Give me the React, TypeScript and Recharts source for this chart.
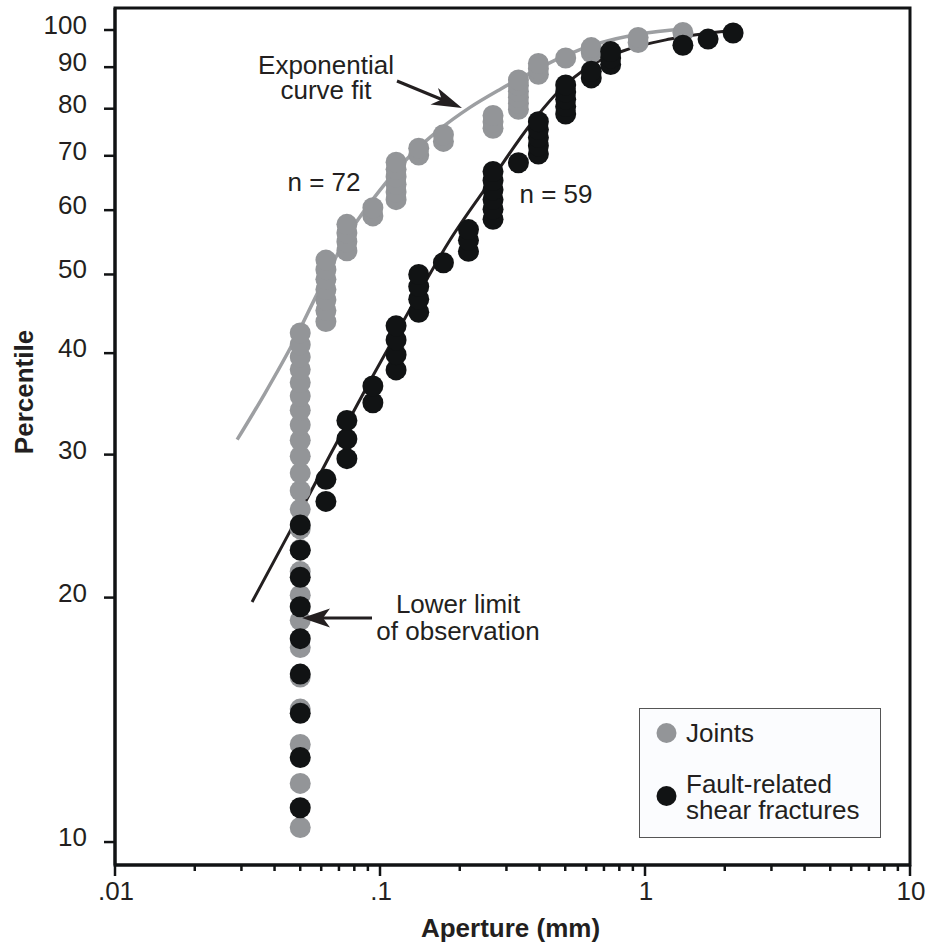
import React from 'react';
import { ComposedChart, Scatter, Line, XAxis, YAxis, ReferenceArea, Legend } from 'recharts';

const FONT = '"Liberation Sans", Arial, Helvetica, sans-serif';
const INK = '#231f20';
const GRAY = '#939598';
const GRAY_LINE = '#9d9fa2';
const BLACK = '#111314';

// ---- Joints (n = 72): aperture (mm) and percentile of each plotted point ----
const jointApertures = [
  0.05, 0.05, 0.05, 0.05, 0.05, 0.05, 0.05, 0.05, 0.05, 0.05, 0.05, 0.05,
  0.05, 0.05, 0.05, 0.05, 0.05, 0.05, 0.05, 0.05, 0.05, 0.05, 0.05, 0.05,
  0.0625, 0.0625, 0.0625, 0.0625, 0.0625, 0.0625, 0.0625,
  0.075, 0.075, 0.075, 0.075,
  0.094, 0.094,
  0.115, 0.115, 0.115, 0.115, 0.115, 0.115,
  0.14, 0.14,
  0.1735, 0.1735,
  0.267, 0.267, 0.267,
  0.333, 0.333, 0.333, 0.333, 0.333, 0.333,
  0.396, 0.396, 0.396,
  0.502,
  0.627, 0.627,
  0.942, 0.942,
  1.39,
];
const jointPercentiles = [
  10.42, 11.81, 13.19, 14.58, 15.97, 17.36, 18.75, 20.14, 21.53, 22.92, 24.31, 25.69,
  27.08, 28.47, 29.86, 31.25, 32.64, 34.03, 35.42, 36.81, 38.19, 39.58, 40.97, 42.36,
  43.75, 45.14, 46.53, 47.92, 49.31, 50.69, 52.08,
  53.47, 54.86, 56.25, 57.64,
  59.03, 60.42,
  61.81, 63.19, 64.58, 65.97, 67.36, 68.75,
  70.14, 71.53,
  72.92, 74.31,
  75.69, 77.08, 78.47,
  79.86, 81.25, 82.64, 84.03, 85.42, 86.81,
  88.19, 89.58, 90.97,
  92.36,
  93.75, 95.14,
  96.53, 97.92,
  99.31,
];

// ---- Fault-related shear fractures (n = 59) ----
const faultApertures = [
  0.05, 0.05, 0.05, 0.05, 0.05, 0.05, 0.05, 0.05, 0.05,
  0.0625, 0.0625,
  0.075, 0.075, 0.075,
  0.094, 0.094,
  0.115, 0.115, 0.115, 0.115,
  0.14, 0.14, 0.14, 0.14,
  0.1735,
  0.2157, 0.2157, 0.2157,
  0.267, 0.267, 0.267, 0.267, 0.267, 0.267,
  0.333,
  0.396, 0.396, 0.396, 0.396, 0.396,
  0.502, 0.502, 0.502, 0.502, 0.502,
  0.627, 0.627,
  0.742, 0.742, 0.742,
  1.39,
  1.73,
  2.15,
];
const faultPercentiles = [
  11.02, 12.71, 14.41, 16.10, 17.80, 19.49, 21.19, 22.88, 24.58,
  26.27, 27.97,
  29.66, 31.36, 33.05,
  34.75, 36.44,
  38.14, 39.83, 41.53, 43.22,
  44.92, 46.61, 48.31, 50.0,
  51.69,
  53.39, 55.08, 56.78,
  58.47, 60.17, 61.86, 63.56, 65.25, 66.95,
  68.64,
  70.34, 72.03, 73.73, 75.42, 77.12,
  78.81, 80.51, 82.2, 83.9, 85.59,
  87.29, 88.98,
  90.68, 92.37, 94.07,
  95.76,
  97.46,
  99.15,
];

// ---- Exponential curve fits ----
const jointFitApertures = [0.0289, 0.0368, 0.047, 0.0594, 0.077, 0.1, 0.1298, 0.1684, 0.2186, 0.2837, 0.3682, 0.4778, 0.6766, 0.9575, 1.392];
const jointFitPercentiles = [31.3, 35.7, 41.2, 48.1, 56.4, 63.5, 70.0, 75.5, 80.3, 84.5, 88.5, 92.4, 96.4, 98.9, 100.3];
const faultFitApertures = [0.0329, 0.0458, 0.0648, 0.0917, 0.1298, 0.1837, 0.2601, 0.3682, 0.4778, 0.62, 0.805, 1.243, 2.148];
const faultFitPercentiles = [19.75, 24.15, 29.97, 36.96, 45.32, 55.13, 65.0, 76.38, 84.36, 90.31, 93.96, 97.48, 99.86];

// ---- Axes ----
const xTicks = [
  0.01, 0.02, 0.03, 0.04, 0.05, 0.06, 0.07, 0.08, 0.09,
  0.1, 0.2, 0.3, 0.4, 0.5, 0.6, 0.7, 0.8, 0.9,
  1, 2, 3, 4, 5, 6, 7, 8, 9, 10,
];
const xMajorLabels: Record<string, string> = { '0.01': '.01', '0.1': '.1', '1': '1', '10': '10' };
const yTicks = [10, 20, 30, 40, 50, 60, 70, 80, 90, 100];
const X_DOMAIN: [number, number] = [0.01, 10];
const Y_DOMAIN: [number, number] = [9.37, 106.44];

const JOINTS_NAME = 'Joints';
const FAULT_LINES = ['Fault-related', 'shear fractures'];
const FAULT_NAME = FAULT_LINES.join(' ');

const jointsData = jointApertures.map((x, i) => ({ x, y: jointPercentiles[i] }));
const faultData = faultApertures.map((x, i) => ({ x, y: faultPercentiles[i] }));
const jointFit = jointFitApertures.map((x, i) => ({ x, y: jointFitPercentiles[i] }));
const faultFit = faultFitApertures.map((x, i) => ({ x, y: faultFitPercentiles[i] }));

const XTick = (props: any) => {
  const { x, y, payload } = props;
  const v = payload.value;
  const lg = Math.log10(v);
  const major = Math.abs(lg - Math.round(lg)) < 1e-6;
  const label = xMajorLabels[String(v)];
  return (
    <g>
      <line x1={x} x2={x} y1={y} y2={y + (major ? 11 : 6)} stroke={BLACK} strokeWidth={2.5} />
      {label ? (
        <text x={x + 1} y={y + 35} textAnchor="middle" fontFamily={FONT} fontSize={26} fill={INK}>
          {label}
        </text>
      ) : null}
    </g>
  );
};

const YTick = (props: any) => {
  const { x, y, payload } = props;
  return (
    <g>
      <line x1={x - 11} x2={x} y1={y} y2={y} stroke={BLACK} strokeWidth={2.5} />
      <text x={x - 28} y={y + 4} textAnchor="end" fontFamily={FONT} fontSize={26} fill={INK}>
        {payload.value}
      </text>
    </g>
  );
};

const renderLegend = (props: any) => {
  const payload: any[] = (props && props.payload) || [];
  const items = payload.filter((p) => p && p.type !== 'none');
  const joint = items.find((p) => p.value === JOINTS_NAME);
  const fault = items.find((p) => p.value === FAULT_NAME);
  return (
    <div
      style={{
        width: 242,
        height: 130,
        boxSizing: 'border-box',
        border: '1.5px solid #555',
        background: '#fbfcfe',
      }}
    >
      <svg width={240} height={127} style={{ display: 'block' }}>
        <circle cx={26.5} cy={24} r={10} fill={joint ? joint.color : GRAY} />
        <text x={46} y={33} fontFamily={FONT} fontSize={26} fill={INK}>
          {joint ? joint.value : JOINTS_NAME}
        </text>
        <circle cx={26.5} cy={87} r={10} fill={fault ? fault.color : BLACK} />
        <text x={46} y={84} fontFamily={FONT} fontSize={26} fill={INK}>
          {FAULT_LINES[0]}
        </text>
        <text x={46} y={110} fontFamily={FONT} fontSize={26} fill={INK}>
          {FAULT_LINES[1]}
        </text>
      </svg>
    </div>
  );
};

const dot = (color: string) => (p: any) => <circle cx={p.cx} cy={p.cy} r={10.5} fill={color} />;

export default function App() {
  return (
    <div style={{ position: 'absolute', left: 0, top: 0, width: 930, height: 947, background: '#fff' }}>
      <ComposedChart width={930} height={947} margin={{ top: 8, right: 20, bottom: 0, left: 0 }}>
        <XAxis
          type="number"
          dataKey="x"
          scale="log"
          domain={X_DOMAIN}
          allowDataOverflow
          ticks={xTicks}
          interval={0}
          height={82}
          tickSize={0}
          tickMargin={0}
          tickLine={false}
          axisLine={{ stroke: BLACK, strokeWidth: 3 }}
          tick={<XTick />}
          label={{
            content: (p: any) => {
              const vb = p.viewBox || { x: 115, y: 865, width: 795 };
              return (
                <text
                  x={vb.x + vb.width / 2 - 2}
                  y={vb.y + 72}
                  textAnchor="middle"
                  fontFamily={FONT}
                  fontWeight="bold"
                  fontSize={26}
                  fill={INK}
                >
                  Aperture (mm)
                </text>
              );
            },
          }}
        />
        <YAxis
          type="number"
          dataKey="y"
          scale="log"
          domain={Y_DOMAIN}
          allowDataOverflow
          ticks={yTicks}
          interval={0}
          width={115}
          tickSize={0}
          tickMargin={0}
          tickLine={false}
          axisLine={{ stroke: BLACK, strokeWidth: 3 }}
          tick={<YTick />}
          label={{
            content: (p: any) => {
              const vb = p.viewBox || { x: 0, y: 8 };
              const cx = vb.x + 33;
              const cy = vb.y + 384;
              return (
                <text
                  x={cx}
                  y={cy}
                  transform={`rotate(-90 ${cx} ${cy})`}
                  textAnchor="middle"
                  fontFamily={FONT}
                  fontWeight="bold"
                  fontSize={26}
                  fill={INK}
                >
                  Percentile
                </text>
              );
            },
          }}
        />
        <ReferenceArea
          x1={X_DOMAIN[0]}
          x2={X_DOMAIN[1]}
          y1={Y_DOMAIN[0]}
          y2={Y_DOMAIN[1]}
          ifOverflow="visible"
          fill="none"
          fillOpacity={0}
          stroke={BLACK}
          strokeWidth={3}
        />
        <Line
          data={jointFit}
          dataKey="y"
          type="monotone"
          stroke={GRAY_LINE}
          strokeWidth={3.5}
          dot={false}
          activeDot={false}
          legendType="none"
          isAnimationActive={false}
        />
        <Scatter
          name={JOINTS_NAME}
          data={jointsData}
          fill={GRAY}
          shape={dot(GRAY)}
          isAnimationActive={false}
        />
        <Line
          data={faultFit}
          dataKey="y"
          type="monotone"
          stroke={INK}
          strokeWidth={3}
          dot={false}
          activeDot={false}
          legendType="none"
          isAnimationActive={false}
        />
        <Scatter
          name={FAULT_NAME}
          data={faultData}
          fill={BLACK}
          shape={dot(BLACK)}
          isAnimationActive={false}
        />
        <Legend
          layout="horizontal"
          verticalAlign="middle"
          align="center"
          content={renderLegend}
          wrapperStyle={{ left: 639, top: 708, width: 242, height: 130 }}
        />
      </ComposedChart>
      <svg
        width={930}
        height={947}
        style={{ position: 'absolute', left: 0, top: 0, pointerEvents: 'none' }}
      >
        <g fontFamily={FONT} fontSize={26} fill={INK}>
          <text x={326} y={74} textAnchor="middle">Exponential</text>
          <text x={326} y={99} textAnchor="middle">curve fit</text>
          <text x={324} y={191} textAnchor="middle">n = 72</text>
          <text x={556} y={203} textAnchor="middle">n = 59</text>
          <text x={458} y={613} textAnchor="middle">Lower limit</text>
          <text x={458} y={640} textAnchor="middle">of observation</text>
        </g>
        <line x1={397} y1={81} x2={443} y2={100} stroke={INK} strokeWidth={3} />
        <path d="M462,108 L430.5,104.5 L441.7,99.6 L438,88 Z" fill={INK} />
        <line x1={372} y1={618} x2={322} y2={618} stroke={INK} strokeWidth={3} />
        <path d="M302,618 L330,608.5 L323,618 L330,627.5 Z" fill={INK} />
      </svg>
    </div>
  );
}
